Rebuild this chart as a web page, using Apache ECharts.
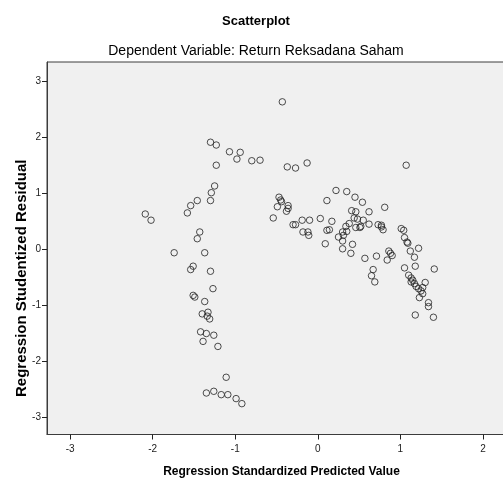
<!DOCTYPE html>
<html><head><meta charset="utf-8">
<script src="https://cdn.jsdelivr.net/npm/echarts@6/dist/echarts.min.js"></script>
<style>html,body{margin:0;padding:0;background:#fff}#c{width:503px;height:481px}</style>
</head><body><div id="c"></div>
<script>
const predictedValues = [
-1.30,-1.23,-1.07,-0.94,-0.98,-0.80,-0.70,-1.23,-1.25,-1.29,
-1.30,-1.46,-1.54,-1.58,-2.09,-2.02,-1.43,-1.46,-1.74,-1.37,
-1.51,-1.54,-1.30,-1.27,-1.51,-1.49,-1.37,-1.40,-1.33,-1.34,
-1.31,-1.42,-1.35,-1.26,-1.39,-1.21,-1.11,-1.35,-1.26,-1.17,
-1.09,-0.99,-0.92,-0.43,-0.37,-0.27,-0.13,-0.47,-0.45,-0.44,
-0.49,-0.36,-0.36,-0.38,-0.54,-0.30,-0.27,-0.19,-0.10,0.03,
0.17,-0.18,-0.12,-0.11,0.11,0.14,0.09,0.22,0.35,0.11,
0.45,0.54,0.81,0.41,0.46,0.62,0.44,0.48,0.55,0.38,
0.34,0.46,0.52,0.51,0.62,0.73,0.77,0.77,0.79,0.30,
0.35,0.31,0.25,0.42,0.30,0.30,0.40,0.57,0.71,0.84,
0.86,0.88,0.90,0.67,0.65,0.69,1.07,1.01,1.04,1.05,
1.08,1.09,1.22,1.12,1.17,1.18,1.05,1.41,1.10,1.13,
1.15,1.13,1.17,1.19,1.30,1.27,1.22,1.25,1.27,1.23,
1.34,1.34,1.18,1.40];
const studentizedResiduals = [
1.91,1.86,1.74,1.73,1.61,1.58,1.59,1.50,1.13,1.01,
0.87,0.87,0.78,0.65,0.63,0.52,0.31,0.19,-0.06,-0.06,
-0.30,-0.36,-0.39,-0.70,-0.82,-0.85,-0.93,-1.15,-1.12,-1.19,
-1.24,-1.47,-1.50,-1.53,-1.64,-1.73,-2.28,-2.56,-2.53,-2.59,
-2.59,-2.66,-2.75,2.63,1.47,1.45,1.54,0.93,0.88,0.85,
0.76,0.78,0.73,0.68,0.56,0.44,0.44,0.52,0.52,0.55,
0.50,0.31,0.31,0.25,0.34,0.35,0.10,1.05,1.03,0.87,
0.93,0.84,0.75,0.69,0.67,0.67,0.56,0.54,0.52,0.46,
0.41,0.39,0.41,0.39,0.45,0.44,0.43,0.40,0.35,0.31,
0.32,0.25,0.22,0.09,0.15,0.01,-0.07,-0.16,-0.12,-0.19,
-0.03,-0.07,-0.11,-0.36,-0.47,-0.58,1.50,0.37,0.34,0.21,
0.13,0.11,0.02,-0.03,-0.14,-0.30,-0.33,-0.35,-0.46,-0.51,
-0.55,-0.58,-0.61,-0.66,-0.59,-0.68,-0.70,-0.74,-0.79,-0.86,
-0.95,-1.02,-1.17,-1.21];
const xTicks = [-3, -2, -1, 0, 1, 2];
const yTicks = [-3, -2, -1, 0, 1, 2, 3];
const titleText = 'Scatterplot';
const subtitleText = 'Dependent Variable: Return Reksadana Saham';
const xName = 'Regression Standardized Predicted Value';
const yName = 'Regression Studentized Residual';

const points = predictedValues.map((x, i) => [x, studentizedResiduals[i]]);
const FONT = "'Liberation Sans', Arial, sans-serif";
const chart = echarts.init(document.getElementById('c'), null, {renderer: 'canvas'});
chart.setOption({
  backgroundColor: '#ffffff',
  animation: false,
  title: [
    {text: titleText, left: 256, top: 13, padding: 0, textAlign: 'center',
     textStyle: {fontFamily: FONT, fontSize: 13, fontWeight: 'bold', color: '#000', lineHeight: 16}},
    {text: subtitleText, left: 256, top: 43, padding: 0, textAlign: 'center',
     textStyle: {fontFamily: FONT, fontSize: 14, fontWeight: 'normal', color: '#000', lineHeight: 16}}
  ],
  grid: {left: 47, top: 62, right: -13, bottom: 46.5, show: true, outerBoundsMode: 'none',
         backgroundColor: '#f0f0f0', borderColor: '#3c3c3c', borderWidth: 1, containLabel: false},
  xAxis: {
    type: 'value', min: -3.28, max: 2.4,
    name: xName, nameLocation: 'middle', nameGap: 31, nameMoveOverlap: false,
    nameTextStyle: {fontFamily: FONT, fontSize: 12, fontWeight: 'bold', color: '#000'},
    axisLine: {show: true, onZero: false, lineStyle: {color: '#3c3c3c', width: 1}},
    axisTick: {show: true, length: 5, customValues: xTicks, lineStyle: {color: '#222', width: 1}},
    axisLabel: {customValues: xTicks, margin: 10, fontFamily: FONT, fontSize: 10, color: '#222'},
    splitLine: {show: false}
  },
  yAxis: {
    type: 'value', min: -3.30, max: 3.34,
    name: yName, nameLocation: 'middle', nameGap: 18, nameRotate: 90, nameMoveOverlap: false,
    nameTextStyle: {fontFamily: FONT, fontSize: 15, fontWeight: 'bold', color: '#000', padding: [0, 60, 0, 0]},
    axisLine: {show: true, onZero: false, lineStyle: {color: '#3c3c3c', width: 1}},
    axisTick: {show: true, length: 5, customValues: yTicks, lineStyle: {color: '#222', width: 1}},
    axisLabel: {customValues: yTicks, margin: 6, fontFamily: FONT, fontSize: 10, color: '#222'},
    splitLine: {show: false}
  },
  series: [{
    type: 'scatter', data: points, symbol: 'circle', symbolSize: 6.5,
    itemStyle: {color: 'rgba(0,0,0,0)', borderColor: '#222', borderWidth: 1},
    emphasis: {disabled: true}, silent: true
  }]
});
</script></body></html>
